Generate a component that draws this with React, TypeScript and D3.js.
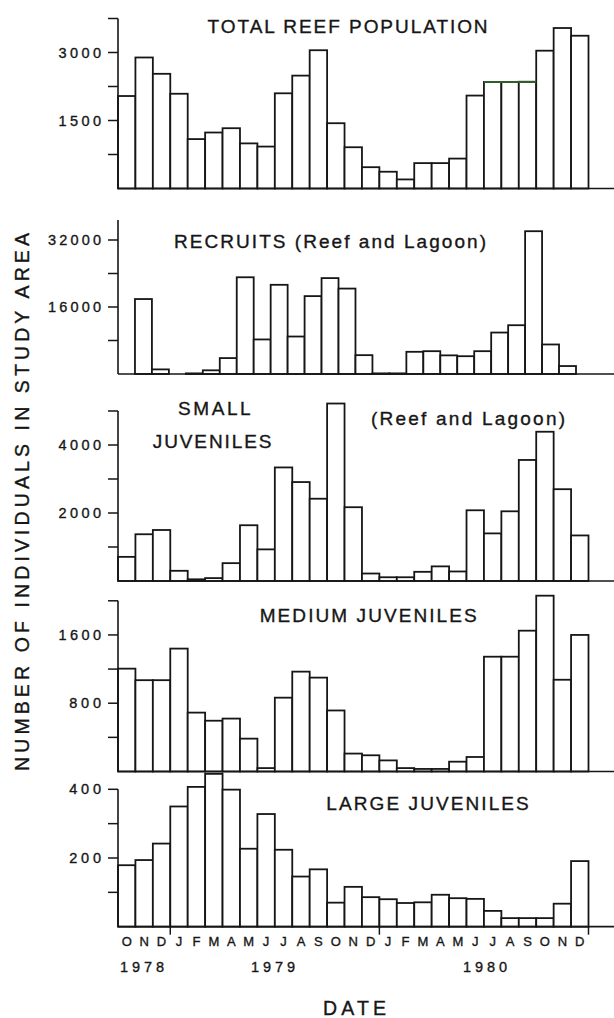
import React from "react";
import * as d3 from "d3";

// months from Oct 1978 to Dec 1980
const months = ["O", "N", "D", "J", "F", "M", "A", "M", "J", "J", "A", "S", "O", "N", "D",
  "J", "F", "M", "A", "M", "J", "J", "A", "S", "O", "N", "D"];
const years = ["1978", "1979", "1980"];

const totalReef = [2040, 2890, 2530, 2090, 1090, 1235, 1330, 995, 925, 2100, 2490, 3050, 1440, 910,
  470, 370, 200, 560, 560, 660, 2050, 2350, 2350, 2355, 3040, 3540, 3370];
const recruits = [0, 17900, 1100, 0, 150, 880, 3800, 23100, 8250, 21300, 8950, 18600, 22900, 20400,
  4500, 150, 150, 5300, 5450, 4450, 4250, 5450, 9900, 11650, 34100, 7050, 1900];
const smallJuveniles = [710, 1375, 1500, 300, 50, 85, 525, 1640, 930, 3340, 2910, 2420, 5220, 2170,
  220, 110, 110, 270, 430, 280, 2080, 1400, 2050, 3560, 4390, 2700, 1340];
const mediumJuveniles = [1205, 1070, 1070, 1440, 690, 595, 620, 385, 40, 865, 1170, 1100, 715, 210,
  190, 130, 40, 30, 30, 115, 170, 1345, 1345, 1650, 2060, 1075, 1600];
const largeJuveniles = [179, 194, 242, 350, 407, 445, 399, 227, 328, 224, 146, 167, 70, 116, 86, 80,
  69, 71, 93, 83, 81, 46, 25, 25, 25, 67, 191];

const totalTicks = [750, 1500, 2250, 3000, 3750];
const totalLabels = [1500, 3000];
const recruitTicks = [8000, 16000, 24000, 32000];
const recruitLabels = [16000, 32000];
const smallTicks = [1000, 2000, 3000, 4000, 5000];
const smallLabels = [2000, 4000];
const mediumTicks = [400, 800, 1200, 1600, 2000];
const mediumLabels = [800, 1600];
const largeTicks = [100, 200, 300, 400];
const largeLabels = [200, 400];

const W = 614;
const H = 1018;
const AXIS_X = 118;
const INK = "#161616";
const FONT = "'Liberation Sans', Arial, Helvetica, sans-serif";
// scanned print looks a bit heavier than plain regular weight
const TEXT_STROKE = 0.35;

type Title = { text: string; x: number; y: number; len: number };
type Panel = {
  values: number[];
  ticks: number[];
  labels: number[];
  max: number;
  base: number;
  top: number;
  right: number;
  titles: Title[];
};

const panels: Panel[] = [
  {
    values: totalReef, ticks: totalTicks, labels: totalLabels, max: 3750, base: 188.5, top: 18.5, right: 588.5,
    titles: [{ text: "TOTAL REEF POPULATION", x: 207.6, y: 32.7, len: 280 }],
  },
  {
    values: recruits, ticks: recruitTicks, labels: recruitLabels, max: 36800, base: 374, top: 219.9, right: 576,
    titles: [{ text: "RECRUITS (Reef and Lagoon)", x: 174, y: 248.3, len: 312 }],
  },
  {
    values: smallJuveniles, ticks: smallTicks, labels: smallLabels, max: 5000, base: 581, top: 411, right: 588.5,
    titles: [
      { text: "SMALL", x: 178, y: 415, len: 72.7 },
      { text: "JUVENILES", x: 152.8, y: 448.3, len: 118.6 },
      { text: "(Reef and Lagoon)", x: 371, y: 425, len: 194 },
    ],
  },
  {
    values: mediumJuveniles, ticks: mediumTicks, labels: mediumLabels, max: 2000, base: 771.5, top: 600.8, right: 588.5,
    titles: [{ text: "MEDIUM JUVENILES", x: 259.7, y: 621.7, len: 217 }],
  },
  {
    values: largeJuveniles, ticks: largeTicks, labels: largeLabels, max: 400, base: 926.7, top: 789.3, right: 588.5,
    titles: [{ text: "LARGE JUVENILES", x: 326.3, y: 810, len: 202.5 }],
  },
];

// scan shows a greenish edge on top of these total-population bars
const greenTops = [21, 22, 23];

const PanelChart = ({ p, idx }: { p: Panel; idx: number }) => {
  const x = d3.scaleBand<number>().domain(d3.range(months.length)).range([AXIS_X, p.right]).padding(0);
  const y = d3.scaleLinear().domain([0, p.max]).range([p.base, p.top]);
  const bw = x.bandwidth();
  const greenY = y(d3.mean(greenTops, (i) => p.values[i]) as number);

  return (
    <g>
      {p.values.map((v, i) =>
        v > 0 ? (
          <rect key={i} x={x(i)} y={y(v)} width={bw} height={y(0) - y(v)}
            fill="#fff" stroke={INK} strokeWidth={1.8} />
        ) : null
      )}
      {idx === 0 && (
        <line x1={x(greenTops[0])} x2={(x(greenTops[greenTops.length - 1]) as number) + bw}
          y1={greenY} y2={greenY} stroke="#2f5e2a" strokeWidth={2} />
      )}
      <line x1={AXIS_X} x2={W} y1={p.base} y2={p.base} stroke={INK} strokeWidth={1.7} />
      <line x1={AXIS_X} x2={AXIS_X} y1={p.base} y2={y(p.max)} stroke={INK} strokeWidth={1.6} />
      {p.ticks.map((t) => (
        <line key={t} x1={AXIS_X - 10} x2={AXIS_X} y1={y(t)} y2={y(t)} stroke={INK} strokeWidth={1.5} />
      ))}
      {p.labels.map((t) => {
        const s = String(t);
        return (
          <text key={t} x={101} y={y(t) + 5} textAnchor="end" fontSize={14.5}
            textLength={s.length * 10.6} lengthAdjust="spacing">
            {s}
          </text>
        );
      })}
      {p.titles.map((tt) => (
        <text key={tt.text} x={tt.x} y={tt.y} fontSize={19} textLength={tt.len}
          lengthAdjust="spacing">
          {tt.text}
        </text>
      ))}
    </g>
  );
};

const App = () => {
  const last = panels[panels.length - 1];
  const x = d3.scaleBand<number>().domain(d3.range(months.length)).range([AXIS_X, last.right]);
  const bw = x.bandwidth();
  // year boundaries (after each December)
  const boundaries = months.map((m, i) => (m === "D" ? i : -1)).filter((i) => i >= 0);
  const yearCenters = [142, 273, 485];

  return (
    <svg width={W} height={H} style={{ position: "absolute", left: 0, top: 0, background: "#fff" }}
      fontFamily={FONT}>
      <rect width={W} height={H} fill="#fff" />
      <g fill={INK} stroke={INK} strokeWidth={TEXT_STROKE}>
        {panels.map((p, i) => (
          <PanelChart key={i} p={p} idx={i} />
        ))}
        {months.map((m, i) => (
          <text key={i} x={(x(i) as number) + bw / 2} y={945.5} textAnchor="middle" fontSize={13}>
            {m}
          </text>
        ))}
        {years.map((yr, i) => (
          <text key={yr} x={yearCenters[i]} y={972} textAnchor="middle" fontSize={14.5}
            textLength={44} lengthAdjust="spacing">
            {yr}
          </text>
        ))}
        <text x={354.5} y={1015} textAnchor="middle" fontSize={19.5} textLength={63}
          lengthAdjust="spacing">
          DATE
        </text>
        <text transform="translate(28.5,502) rotate(-90)" textAnchor="middle" fontSize={19.5}
          textLength={538} lengthAdjust="spacing">
          NUMBER OF INDIVIDUALS IN STUDY AREA
        </text>
      </g>
      {boundaries.map((i) => (
        <line key={i} x1={(x(i) as number) + bw} x2={(x(i) as number) + bw}
          y1={last.base} y2={last.base + 8} stroke={INK} strokeWidth={1.5} />
      ))}
    </svg>
  );
};

export default App;
